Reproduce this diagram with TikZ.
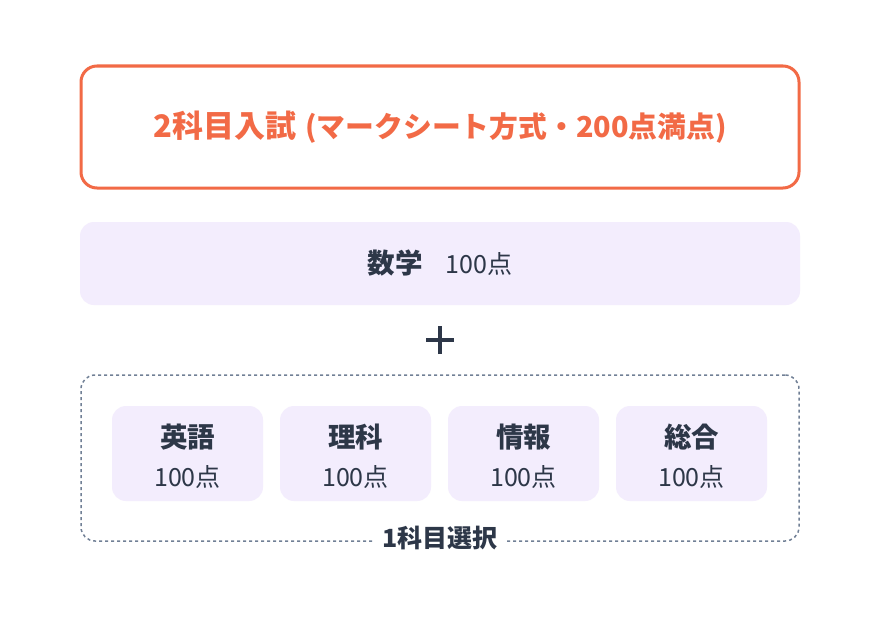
\documentclass[tikz,border=0pt]{standalone}
\usepackage{fontspec}
\setmainfont{Noto Sans CJK JP}
\definecolor{orng}{HTML}{F26A46}
\definecolor{ink}{HTML}{2D3748}
\definecolor{lav}{HTML}{F3EDFD}
\definecolor{dashgray}{HTML}{718096}
\tikzset{
  subjbox/.style={fill=lav, rounded corners=14pt, minimum width=151pt, minimum height=95pt, inner sep=0pt},
  subjtitle/.style={text=ink, font=\bfseries\fontsize{27.5}{30}\selectfont, inner sep=0pt},
  subjscore/.style={text=ink, font=\fontsize{25}{28}\selectfont, inner sep=0pt},
}
\begin{document}
\begin{tikzpicture}[x=1pt,y=-1pt]
\useasboundingbox[fill=white] (0,0) rectangle (880,618);
% top box
\node (top) [draw=orng, line width=3pt, rounded corners=16pt, minimum width=718pt, minimum height=122pt, inner sep=0pt, text=orng] at (440,127)
  {{\bfseries\fontsize{31}{34}\selectfont 2科目入試}\hspace{9pt}{\bfseries\fontsize{28.8}{32}\selectfont (マークシート方式・200点満点)}};
% math box
\node (math) [fill=lav, rounded corners=14pt, minimum width=720pt, minimum height=83pt, inner sep=0pt, text=ink] at (440,263.5)
  {{\bfseries\fontsize{27.5}{30}\selectfont 数学}\hspace{23pt}{\fontsize{25}{28}\selectfont 100点}};
% plus
\coordinate (plus) at (440,340);
\draw[ink, line width=3.5pt] ([xshift=-14pt]plus) -- ([xshift=14pt]plus);
\draw[ink, line width=3.5pt] ([yshift=-14pt]plus) -- ([yshift=14pt]plus);
% selection box
\node (sel) [draw=dashgray, line width=1.5pt, dash pattern=on 3pt off 3pt, rounded corners=14pt, minimum width=718pt, minimum height=166pt, inner sep=0pt] at (440,458) {};
\node (selLabel) [fill=white, text=ink, font=\bfseries\fontsize{25}{28}\selectfont, inner xsep=8pt, inner ysep=2pt, yshift=4pt] at (sel.south) {1科目選択};
% subjects
\node (eng) [subjbox] at (187.5,453.5) {};
\node (sci) [subjbox] at (355.5,453.5) {};
\node (info) [subjbox] at (523.5,453.5) {};
\node (gen) [subjbox] at (691.5,453.5) {};
\node (engT) [subjtitle] at (187.5,437) {英語};
\node (sciT) [subjtitle] at (355.5,437) {理科};
\node (infoT) [subjtitle] at (523.5,437) {情報};
\node (genT) [subjtitle] at (691.5,437) {総合};
\node (engS) [subjscore] at (187.5,477) {100点};
\node (sciS) [subjscore] at (355.5,477) {100点};
\node (infoS) [subjscore] at (523.5,477) {100点};
\node (genS) [subjscore] at (691.5,477) {100点};
\end{tikzpicture}
\end{document}
